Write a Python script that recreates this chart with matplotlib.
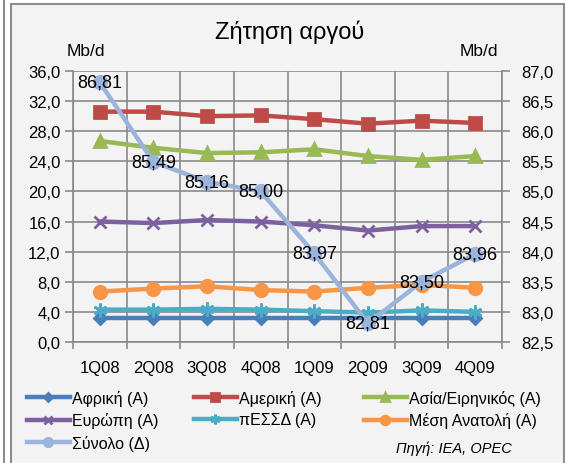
import matplotlib
matplotlib.use('Agg')
import matplotlib.pyplot as plt
from matplotlib.patches import Rectangle
from matplotlib.lines import Line2D

plt.rcParams['font.family'] = ['Liberation Sans', 'DejaVu Sans']

# data
quarters = ['1Q08', '2Q08', '3Q08', '4Q08', '1Q09', '2Q09', '3Q09', '4Q09']
afriki = [3.2, 3.2, 3.2, 3.2, 3.2, 3.2, 3.2, 3.2]
ameriki = [30.6, 30.6, 30.0, 30.1, 29.6, 29.0, 29.4, 29.1]
asia = [26.7, 25.8, 25.1, 25.2, 25.6, 24.7, 24.2, 24.7]
europi = [16.0, 15.8, 16.2, 16.0, 15.5, 14.8, 15.4, 15.4]
pessd = [4.3, 4.3, 4.4, 4.3, 4.1, 3.9, 4.2, 4.0]
mesi_anatoli = [6.7, 7.1, 7.4, 6.9, 6.7, 7.2, 7.6, 7.2]
synolo = [86.81, 85.49, 85.16, 85.00, 83.97, 82.81, 83.50, 83.96]

left_ticks = [0, 4, 8, 12, 16, 20, 24, 28, 32, 36]
right_ticks = [82.5, 83.0, 83.5, 84.0, 84.5, 85.0, 85.5, 86.0, 86.5, 87.0]

W, H = 569, 464
fig = plt.figure(figsize=(W / 100, H / 100), dpi=100, facecolor='white')

# outer chart frame like the Excel chart object
fig.patches.append(Rectangle((11 / W, -0.05), (564 - 11) / W, 1 - 5 / H + 0.05,
                             transform=fig.transFigure, facecolor='#f3f3f3',
                             edgecolor='#8c8c8c', lw=1.5, zorder=-5))
fig.lines.append(Line2D([3.5 / W, 3.5 / W], [0, 1], transform=fig.transFigure,
                        color='#8c8c8c', lw=1.5, zorder=-5))

ax = fig.add_axes([73 / W, 1 - 343 / H, (502 - 73) / W, (343 - 72) / H])
ax.set_facecolor('none')
ax2 = ax.twinx()

x = list(range(len(quarters)))
grid_c = '#8a8a8a'
fs = 12

series = [
    ('Αφρική (Α)', afriki, '#4a7ebb', 'D', 6),
    ('Αμερική (Α)', ameriki, '#be4b48', 's', 9),
    ('Ασία/Ειρηνικός (Α)', asia, '#98b954', '^', 9),
    ('Ευρώπη (Α)', europi, '#7d60a0', 'x', 9),
    ('πΕΣΣΔ (Α)', pessd, '#4bacc6', (6, 2, 0), 10),
    ('Μέση Ανατολή (Α)', mesi_anatoli, '#f79646', 'o', 9),
]
handles = {}
for name, vals, col, mk, ms in series:
    h, = ax.plot(x, vals, color=col, lw=3.2, marker=mk, ms=ms, mew=2,
                 mec=col, mfc=col, label=name, zorder=3)
    handles[name] = h

h_tot, = ax2.plot(x, synolo, color='#9bb4dc', lw=3.2, marker='o', ms=10,
                  label='Σύνολο (Δ)', zorder=4)
handles['Σύνολο (Δ)'] = h_tot
for xi, v in zip(x, synolo):
    ax2.text(xi, v, f'{v:.2f}'.replace('.', ','), ha='center', va='center',
             fontsize=13, color='black', zorder=5)

ax.set_xlim(-0.5, len(quarters) - 0.5)
ax.set_ylim(0, 36)
ax2.set_ylim(82.5, 87.0)
ax.set_yticks(left_ticks)
ax.set_yticklabels([f'{t:.1f}'.replace('.', ',') for t in left_ticks], fontsize=fs)
ax2.set_yticks(right_ticks)
ax2.set_yticklabels([f'{t:.1f}'.replace('.', ',') for t in right_ticks], fontsize=fs)
ax.set_xticks(x)
ax.set_xticklabels(quarters, fontsize=fs)
ax.set_xticks([i - 0.5 for i in range(len(quarters) + 1)], minor=True)
ax.tick_params(axis='x', which='major', length=0, pad=13)
ax.tick_params(axis='x', which='minor', length=5, color=grid_c, width=1.2)
ax.tick_params(axis='y', length=6, color=grid_c, width=1.2, pad=3)
ax2.tick_params(axis='y', length=6, color=grid_c, width=1.2, pad=8)
ax.grid(True, which='minor', axis='x', color=grid_c, lw=1.2)
ax.grid(True, which='major', axis='y', color=grid_c, lw=1.2)
ax.set_axisbelow(True)
for a in (ax, ax2):
    for s in a.spines.values():
        s.set_visible(False)
for a, side in ((ax, 'left'), (ax, 'bottom'), (ax2, 'right')):
    a.spines[side].set_visible(True)
    a.spines[side].set_color(grid_c)
    a.spines[side].set_linewidth(1.2)

fig.text(290 / W, 1 - 32 / H, 'Ζήτηση αργού', ha='center', va='center', fontsize=17)
fig.text(67 / W, 1 - 52 / H, 'Mb/d', ha='left', va='center', fontsize=12.5)
fig.text(498 / W, 1 - 52 / H, 'Mb/d', ha='right', va='center', fontsize=12.5)

columns = [
    (['Αφρική (Α)', 'Ευρώπη (Α)', 'Σύνολο (Δ)'], 14),
    (['Αμερική (Α)', 'πΕΣΣΔ (Α)'], 181),
    (['Ασία/Ειρηνικός (Α)', 'Μέση Ανατολή (Α)'], 351),
]
for names, x0 in columns:
    leg = fig.legend([handles[n] for n in names], names, loc='upper left',
                     bbox_to_anchor=(x0 / W, 1 - 378 / H), frameon=False,
                     fontsize=11.5, handlelength=2.7, handletextpad=0.15,
                     labelspacing=0.4, markerscale=0.7, borderpad=0.3)

fig.text(512 / W, 1 - 449 / H, 'Πηγή: IEA, OPEC', ha='right', va='center',
         fontsize=10.5, style='italic')

fig.savefig('out.png', dpi=100, facecolor='white')
